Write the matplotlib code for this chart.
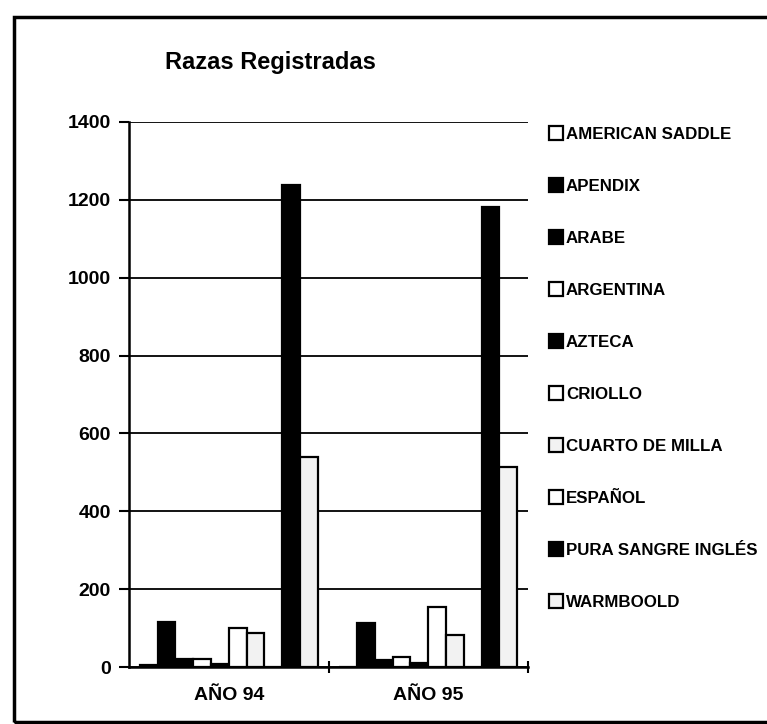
import numpy as np
import matplotlib
matplotlib.use("Agg")
import matplotlib.pyplot as plt
from matplotlib.patches import Rectangle

# data
years = ["AÑO 94", "AÑO 95"]
breeds = ["AMERICAN SADDLE", "APENDIX", "ARABE", "ARGENTINA", "AZTECA",
          "CRIOLLO", "CUARTO DE MILLA", "ESPAÑOL", "PURA SANGRE INGLÉS",
          "WARMBOOLD"]
ano_94 = [5, 115, 22, 22, 8, 100, 87, 1, 1237, 540]
ano_95 = [2, 113, 18, 26, 10, 154, 83, 1, 1180, 514]
fills = ["white", "black", "black", "white", "black",
         "white", "#f2f2f2", "white", "black", "#f2f2f2"]
yticks = [0, 200, 400, 600, 800, 1000, 1200, 1400]

plt.rcParams['font.family'] = ['Liberation Sans', 'DejaVu Sans']
plt.rcParams['font.weight'] = 'bold'

fig = plt.figure(figsize=(7.67, 7.24), dpi=100)
ax = fig.add_axes([129 / 767, 1 - 667.3 / 724, (528 - 129) / 767, (667.3 - 121.7) / 724])

x = np.arange(len(years))
w = 0.0892
for i, name in enumerate(breeds):
    vals = [ano_94[i], ano_95[i]]
    ax.bar(x + (i - 4.5) * w, vals, width=w, color=fills[i],
           edgecolor="black", linewidth=1.6, label=name, zorder=3)

ax.set_xlim(-0.5, 1.5)
ax.set_ylim(0, 1400)
ax.set_yticks(yticks)
ax.set_yticklabels([str(t) for t in yticks], fontsize=14, fontweight='bold')
ax.set_xticks(x)
ax.set_xticklabels(years, fontsize=14, fontweight='bold')
ax.set_xticks([0.5, 1.5], minor=True)
ax.tick_params(axis='x', which='major', length=0, pad=14)
ax.tick_params(axis='x', which='minor', length=9, width=1.5, direction='inout')
ax.tick_params(axis='y', length=7, width=1.5, direction='out', pad=6)
ax.grid(axis='y', color='black', linewidth=1.3, zorder=0)
for s in ['top', 'right']:
    ax.spines[s].set_visible(False)
for s in ['left', 'bottom']:
    ax.spines[s].set_linewidth(1.8)
ax.set_axisbelow(True)

fig.text(270 / 767, 1 - 63 / 724, "Razas Registradas", ha='center', va='center',
         fontsize=17, fontweight='heavy')

fig.legend(loc='upper left', bbox_to_anchor=(549 / 767, 1 - 126 / 724),
           frameon=False, fontsize=12.2, borderpad=0, borderaxespad=0,
           labelspacing=2.15, handlelength=0.85, handleheight=0.85,
           handletextpad=0.15)

# outer frame of the scanned page
fig.patches.append(Rectangle((14 / 767, 2 / 724), 1.2, (722 - 17) / 724 + 0.0,
                             transform=fig.transFigure, fill=False,
                             edgecolor='black', linewidth=2.5))

fig.savefig("out.png", dpi=100)
